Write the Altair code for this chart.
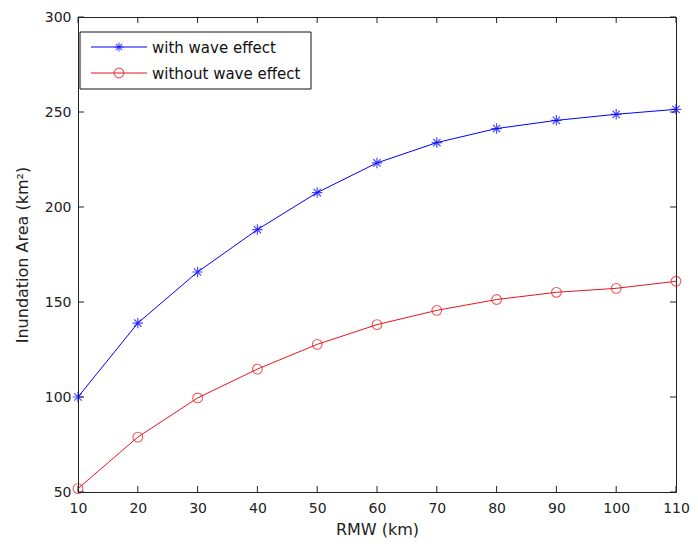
import altair as alt
import pandas as pd

rmw = [10, 20, 30, 40, 50, 60, 70, 80, 90, 100, 110]
with_wave = [100.0, 138.9, 165.8, 188.1, 207.6, 223.2, 233.9, 241.3, 245.6, 248.8, 251.4]
without_wave = [51.8, 78.9, 99.5, 114.7, 127.7, 138.1, 145.6, 151.3, 155.1, 157.2, 160.9]
series_names = ["with wave effect", "without wave effect"]
series_colors = ["#0000ff", "#e8141e"]
x_ticks = [10, 20, 30, 40, 50, 60, 70, 80, 90, 100, 110]
y_ticks = [50, 100, 150, 200, 250, 300]

W, H = 598, 475
FONT = "DejaVu Sans"
FS = 14
TFS = 16
LFS = 15

df = pd.DataFrame({
    "RMW": rmw * 2,
    "Area": with_wave + without_wave,
    "series": [series_names[0]] * len(rmw) + [series_names[1]] * len(rmw),
})

ASTERISK = "M-1,0L1,0M0,-1L0,1M-0.7,-0.7L0.7,0.7M-0.7,0.7L0.7,-0.7"
CIRCLE = "circle"

xs = alt.Scale(domain=[10, 110], nice=False, zero=False)
ys = alt.Scale(domain=[50, 300], nice=False, zero=False)

x_enc = alt.X("RMW:Q", scale=xs, axis=alt.Axis(
    values=x_ticks, title="RMW (km)", grid=False, ticks=False, tickSize=0,
    labelPadding=9, labelFont=FONT, labelFontSize=FS, labelColor="#222",
    titleFont=FONT, titleFontSize=TFS, titleFontWeight="normal", titleColor="#222",
    titlePadding=6, domainColor="#222", labelFlush=False))
y_enc = alt.Y("Area:Q", scale=ys, axis=alt.Axis(
    values=y_ticks, title="Inundation Area (km²)", grid=False, ticks=False, tickSize=0,
    labelPadding=7, labelFont=FONT, labelFontSize=FS, labelColor="#222",
    titleFont=FONT, titleFontSize=TFS, titleFontWeight="normal", titleColor="#222",
    titlePadding=14, domainColor="#222", labelFlush=False))

color = alt.Color("series:N", scale=alt.Scale(domain=series_names, range=series_colors), legend=None)

lines = alt.Chart(df).mark_line(strokeWidth=1).encode(x=x_enc, y=y_enc, color=color)

blue_pts = alt.Chart(df[df.series == series_names[0]]).mark_point(
    shape=ASTERISK, size=110, filled=False, strokeWidth=1.2, color=series_colors[0]
).encode(x=alt.X("RMW:Q", scale=xs), y=alt.Y("Area:Q", scale=ys))
red_pts = alt.Chart(df[df.series == series_names[1]]).mark_point(
    shape=CIRCLE, size=95, filled=False, strokeWidth=1.1, color=series_colors[1]
).encode(x=alt.X("RMW:Q", scale=xs), y=alt.Y("Area:Q", scale=ys))

# inward tick marks (MATLAB style) on all four sides
xt = pd.DataFrame({"t": x_ticks})
yt = pd.DataFrame({"t": y_ticks})
tick_col = "#222"
xb = alt.Chart(xt).mark_rule(color=tick_col).encode(x=alt.X("t:Q", scale=xs), y=alt.value(H), y2=alt.value(H - 6))
xtop = alt.Chart(xt).mark_rule(color=tick_col).encode(x=alt.X("t:Q", scale=xs), y=alt.value(0), y2=alt.value(6))
yl = alt.Chart(yt).mark_rule(color=tick_col).encode(y=alt.Y("t:Q", scale=ys), x=alt.value(0), x2=alt.value(6))
yr = alt.Chart(yt).mark_rule(color=tick_col).encode(y=alt.Y("t:Q", scale=ys), x=alt.value(W), x2=alt.value(W - 6))

# legend box
leg_box = alt.Chart(pd.DataFrame({"a": [0]})).mark_rect(
    fill="white", stroke="#111", strokeWidth=1
).encode(x=alt.value(2), x2=alt.value(233), y=alt.value(15), y2=alt.value(72))

leg_layers = []
leg_y = [30, 56]
shapes = [ASTERISK, CIRCLE]
sizes = [80, 95]
for i, name in enumerate(series_names):
    d = pd.DataFrame({"label": [name]})
    leg_layers.append(alt.Chart(d).mark_rule(color=series_colors[i], strokeWidth=1).encode(
        x=alt.value(13), x2=alt.value(69), y=alt.value(leg_y[i])))
    leg_layers.append(alt.Chart(d).mark_point(shape=shapes[i], size=sizes[i], filled=False,
        strokeWidth=1.1, color=series_colors[i]).encode(x=alt.value(41), y=alt.value(leg_y[i])))
    leg_layers.append(alt.Chart(d).mark_text(align="left", baseline="middle", font=FONT,
        fontSize=LFS, color="#111").encode(x=alt.value(74), y=alt.value(leg_y[i] + 1), text="label:N"))

chart = alt.layer(
    lines, blue_pts, red_pts, xb, xtop, yl, yr, leg_box, *leg_layers
).properties(
    width=W, height=H,
    autosize=alt.AutoSizeParams(type="none"),
    padding={"left": 70, "top": 9, "right": 14, "bottom": 48},
    background="white",
).configure_view(stroke="#222", strokeWidth=1)

chart.save("out.html", embed_options={"renderer": "svg", "actions": False})
